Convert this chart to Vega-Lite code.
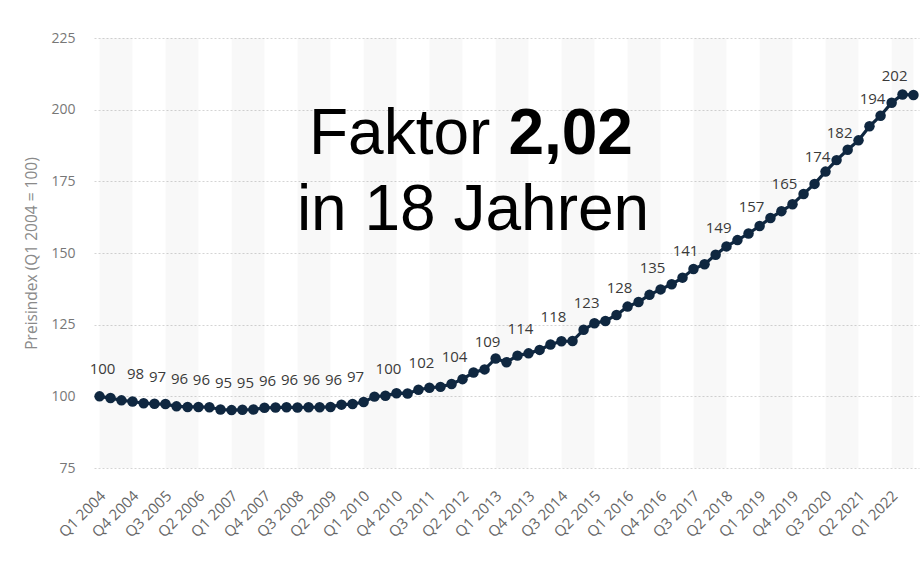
{
  "$schema": "https://vega.github.io/schema/vega-lite/v6.json",
  "width": 825,
  "height": 430,
  "autosize": {"type": "none"},
  "padding": {"left": 94, "top": 38, "right": 3, "bottom": 102},
  "background": "white",
  "config": {"view": {"stroke": null}, "font": "Open Sans"},
  "resolve": {"axis": {"x": "independent", "y": "independent"}},
  "datasets": {
    "index": [
      {"q": "2004-01-01", "v": 100.0, "label": "100"},
      {"q": "2004-04-01", "v": 99.4},
      {"q": "2004-07-01", "v": 98.6},
      {"q": "2004-10-01", "v": 98.2, "label": "98"},
      {"q": "2005-01-01", "v": 97.6},
      {"q": "2005-04-01", "v": 97.4, "label": "97"},
      {"q": "2005-07-01", "v": 97.3},
      {"q": "2005-10-01", "v": 96.5, "label": "96"},
      {"q": "2006-01-01", "v": 96.3},
      {"q": "2006-04-01", "v": 96.3, "label": "96"},
      {"q": "2006-07-01", "v": 96.2},
      {"q": "2006-10-01", "v": 95.4, "label": "95"},
      {"q": "2007-01-01", "v": 95.2},
      {"q": "2007-04-01", "v": 95.3, "label": "95"},
      {"q": "2007-07-01", "v": 95.4},
      {"q": "2007-10-01", "v": 96.0, "label": "96"},
      {"q": "2008-01-01", "v": 96.1},
      {"q": "2008-04-01", "v": 96.2, "label": "96"},
      {"q": "2008-07-01", "v": 96.1},
      {"q": "2008-10-01", "v": 96.2, "label": "96"},
      {"q": "2009-01-01", "v": 96.2},
      {"q": "2009-04-01", "v": 96.3, "label": "96"},
      {"q": "2009-07-01", "v": 97.1},
      {"q": "2009-10-01", "v": 97.3, "label": "97"},
      {"q": "2010-01-01", "v": 98.0},
      {"q": "2010-04-01", "v": 99.9},
      {"q": "2010-07-01", "v": 100.2, "label": "100"},
      {"q": "2010-10-01", "v": 101.1},
      {"q": "2011-01-01", "v": 101.0},
      {"q": "2011-04-01", "v": 102.3, "label": "102"},
      {"q": "2011-07-01", "v": 103.0},
      {"q": "2011-10-01", "v": 103.3},
      {"q": "2012-01-01", "v": 104.3, "label": "104"},
      {"q": "2012-04-01", "v": 106.0},
      {"q": "2012-07-01", "v": 108.3},
      {"q": "2012-10-01", "v": 109.4, "label": "109"},
      {"q": "2013-01-01", "v": 113.2},
      {"q": "2013-04-01", "v": 111.9},
      {"q": "2013-07-01", "v": 114.2, "label": "114"},
      {"q": "2013-10-01", "v": 115.0},
      {"q": "2014-01-01", "v": 116.2},
      {"q": "2014-04-01", "v": 118.1, "label": "118"},
      {"q": "2014-07-01", "v": 119.2},
      {"q": "2014-10-01", "v": 119.3},
      {"q": "2015-01-01", "v": 123.2, "label": "123"},
      {"q": "2015-04-01", "v": 125.5},
      {"q": "2015-07-01", "v": 126.3},
      {"q": "2015-10-01", "v": 128.4, "label": "128"},
      {"q": "2016-01-01", "v": 131.3},
      {"q": "2016-04-01", "v": 132.9},
      {"q": "2016-07-01", "v": 135.4, "label": "135"},
      {"q": "2016-10-01", "v": 137.3},
      {"q": "2017-01-01", "v": 139.1},
      {"q": "2017-04-01", "v": 141.4, "label": "141"},
      {"q": "2017-07-01", "v": 144.4},
      {"q": "2017-10-01", "v": 146.1},
      {"q": "2018-01-01", "v": 149.4, "label": "149"},
      {"q": "2018-04-01", "v": 152.3},
      {"q": "2018-07-01", "v": 154.5},
      {"q": "2018-10-01", "v": 156.8, "label": "157"},
      {"q": "2019-01-01", "v": 159.4},
      {"q": "2019-04-01", "v": 162.2},
      {"q": "2019-07-01", "v": 164.6, "label": "165"},
      {"q": "2019-10-01", "v": 167.0},
      {"q": "2020-01-01", "v": 170.6},
      {"q": "2020-04-01", "v": 174.1, "label": "174"},
      {"q": "2020-07-01", "v": 178.4},
      {"q": "2020-10-01", "v": 182.4, "label": "182"},
      {"q": "2021-01-01", "v": 186.0},
      {"q": "2021-04-01", "v": 189.3},
      {"q": "2021-07-01", "v": 194.2, "label": "194"},
      {"q": "2021-10-01", "v": 197.9},
      {"q": "2022-01-01", "v": 202.4, "label": "202"},
      {"q": "2022-04-01", "v": 205.3},
      {"q": "2022-07-01", "v": 205.1}
    ],
    "bands": [
      {"from": "2004-01-01", "to": "2004-10-01"},
      {"from": "2005-07-01", "to": "2006-04-01"},
      {"from": "2007-01-01", "to": "2007-10-01"},
      {"from": "2008-07-01", "to": "2009-04-01"},
      {"from": "2010-01-01", "to": "2010-10-01"},
      {"from": "2011-07-01", "to": "2012-04-01"},
      {"from": "2013-01-01", "to": "2013-10-01"},
      {"from": "2014-07-01", "to": "2015-04-01"},
      {"from": "2016-01-01", "to": "2016-10-01"},
      {"from": "2017-07-01", "to": "2018-04-01"},
      {"from": "2019-01-01", "to": "2019-10-01"},
      {"from": "2020-07-01", "to": "2021-04-01"},
      {"from": "2022-01-01", "to": "2022-07-01"}
    ]
  },
  "data": {"name": "index"},
  "layer": [
    {
      "data": {"name": "bands"},
      "mark": {"type": "rect", "color": "#000000", "opacity": 0.028},
      "encoding": {
        "x": {"field": "from", "type": "temporal", "axis": null},
        "x2": {"field": "to"},
        "y": {"datum": 225, "type": "quantitative", "axis": null},
        "y2": {"datum": 75}
      }
    },
    {
      "mark": {"type": "line", "color": "#0f2740", "strokeWidth": 3.2},
      "encoding": {
        "x": {
          "field": "q",
          "type": "temporal",
          "scale": {
            "type": "utc",
            "domain": [
              {"year": 2003, "month": 11, "date": 16, "utc": true},
              {"year": 2022, "month": 8, "date": 16, "utc": true}
            ]
          },
          "axis": {
            "values": [
              {"year": 2004, "month": 1, "date": 1, "utc": true},
              {"year": 2004, "month": 10, "date": 1, "utc": true},
              {"year": 2005, "month": 7, "date": 1, "utc": true},
              {"year": 2006, "month": 4, "date": 1, "utc": true},
              {"year": 2007, "month": 1, "date": 1, "utc": true},
              {"year": 2007, "month": 10, "date": 1, "utc": true},
              {"year": 2008, "month": 7, "date": 1, "utc": true},
              {"year": 2009, "month": 4, "date": 1, "utc": true},
              {"year": 2010, "month": 1, "date": 1, "utc": true},
              {"year": 2010, "month": 10, "date": 1, "utc": true},
              {"year": 2011, "month": 7, "date": 1, "utc": true},
              {"year": 2012, "month": 4, "date": 1, "utc": true},
              {"year": 2013, "month": 1, "date": 1, "utc": true},
              {"year": 2013, "month": 10, "date": 1, "utc": true},
              {"year": 2014, "month": 7, "date": 1, "utc": true},
              {"year": 2015, "month": 4, "date": 1, "utc": true},
              {"year": 2016, "month": 1, "date": 1, "utc": true},
              {"year": 2016, "month": 10, "date": 1, "utc": true},
              {"year": 2017, "month": 7, "date": 1, "utc": true},
              {"year": 2018, "month": 4, "date": 1, "utc": true},
              {"year": 2019, "month": 1, "date": 1, "utc": true},
              {"year": 2019, "month": 10, "date": 1, "utc": true},
              {"year": 2020, "month": 7, "date": 1, "utc": true},
              {"year": 2021, "month": 4, "date": 1, "utc": true},
              {"year": 2022, "month": 1, "date": 1, "utc": true}
            ],
            "labelExpr": "utcFormat(datum.value, 'Q%q %Y')",
            "labelAngle": -45,
            "labelAlign": "right",
            "labelBaseline": "middle",
            "labelPadding": 25,
            "labelOffset": 3,
            "labelFontSize": 15,
            "labelColor": "#666666",
            "labelFont": "Open Sans",
            "labelOverlap": false,
            "ticks": false,
            "domain": false,
            "grid": false,
            "title": null
          }
        },
        "y": {
          "field": "v",
          "type": "quantitative",
          "scale": {"domain": [75, 225], "nice": false, "zero": false},
          "axis": {
            "values": [75, 100, 125, 150, 175, 200, 225],
            "grid": true,
            "gridDash": [2, 2],
            "gridColor": "#d4d4d4",
            "domain": false,
            "ticks": false,
            "labelPadding": 19,
            "labelFontSize": 14,
            "labelColor": "#777777",
            "labelFont": "Open Sans",
            "title": "Preisindex (Q1 2004 = 100)",
            "titleFont": "Open Sans",
            "titleFontSize": 15.5,
            "titleFontWeight": "normal",
            "titleColor": "#8a8a8a",
            "titlePadding": 11
          }
        }
      }
    },
    {
      "mark": {"type": "circle", "color": "#0f2740", "size": 110, "opacity": 1},
      "encoding": {
        "x": {"field": "q", "type": "temporal", "axis": null},
        "y": {"field": "v", "type": "quantitative", "axis": null}
      }
    },
    {
      "transform": [{"filter": "isValid(datum.label)"}],
      "mark": {"type": "text", "dy": -27, "dx": 3, "fontSize": 15, "color": "#3a3a3a", "font": "Open Sans", "baseline": "middle"},
      "encoding": {
        "x": {"field": "q", "type": "temporal", "axis": null},
        "y": {"field": "v", "type": "quantitative", "axis": null},
        "text": {"field": "label"}
      }
    },
    {
      "data": {"values": [{}]},
      "mark": {"type": "text", "text": "Faktor", "font": "Liberation Sans", "fontSize": 64, "color": "#000000", "align": "right", "baseline": "alphabetic", "dx": -9},
      "encoding": {
        "x": {"datum": {"year": 2013, "month": 2, "date": 1, "utc": true}, "type": "temporal", "axis": null},
        "y": {"datum": 184.5, "type": "quantitative", "axis": null}
      }
    },
    {
      "data": {"values": [{}]},
      "mark": {"type": "text", "text": "2,02", "font": "Liberation Sans", "fontSize": 64, "fontWeight": "bold", "color": "#000000", "align": "left", "baseline": "alphabetic", "dx": 9},
      "encoding": {
        "x": {"datum": {"year": 2013, "month": 2, "date": 1, "utc": true}, "type": "temporal", "axis": null},
        "y": {"datum": 184.5, "type": "quantitative", "axis": null}
      }
    },
    {
      "data": {"values": [{}]},
      "mark": {"type": "text", "text": "in 18 Jahren", "font": "Liberation Sans", "fontSize": 64, "color": "#000000", "align": "center", "baseline": "alphabetic"},
      "encoding": {
        "x": {"datum": {"year": 2012, "month": 6, "date": 27, "utc": true}, "type": "temporal", "axis": null},
        "y": {"datum": 158.0, "type": "quantitative", "axis": null}
      }
    }
  ]
}
